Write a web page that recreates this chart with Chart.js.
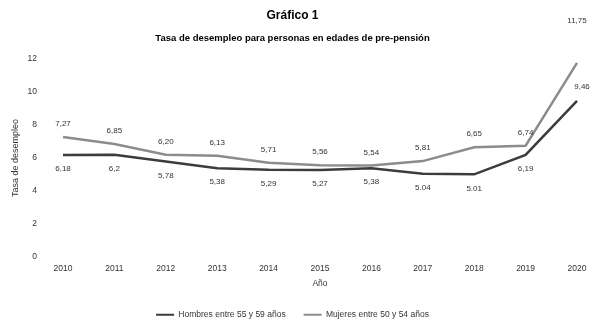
<!DOCTYPE html>
<html>
<head>
<meta charset="utf-8">
<script src="https://cdn.jsdelivr.net/npm/chart.js@4"></script>
<style>
  body { margin: 0; background: #fff; }
  #wrap { width: 597px; height: 320px; }
</style>
</head>
<body>
<div id="wrap"><canvas id="chart"></canvas></div>
<script>
// datos
const years = ["2010", "2011", "2012", "2013", "2014", "2015", "2016", "2017", "2018", "2019", "2020"];
const hombres = [6.18, 6.2, 5.78, 5.38, 5.29, 5.27, 5.38, 5.04, 5.01, 6.19, 9.46];
const mujeres = [7.27, 6.85, 6.20, 6.13, 5.71, 5.56, 5.54, 5.81, 6.65, 6.74, 11.75];
const hombresLabels = ["6,18", "6,2", "5,78", "5,38", "5,29", "5,27", "5,38", "5.04", "5.01", "6,19", "9,46"];
const mujeresLabels = ["7,27", "6,85", "6,20", "6,13", "5,71", "5,56", "5,54", "5,81", "6,65", "6,74", "11,75"];
const yTicks = [0, 2, 4, 6, 8, 10, 12];

const FONT = "'Liberation Sans Narrow', 'Liberation Sans', Arial, sans-serif";

// etiquetas de valores
const valueLabels = {
  id: "valueLabels",
  afterDatasetsDraw(chart) {
    const ctx = chart.ctx;
    ctx.save();
    ctx.font = "8px " + FONT;
    ctx.fillStyle = "#333";
    ctx.textAlign = "center";
    ctx.textBaseline = "middle";
    chart.data.datasets.forEach((ds, i) => {
      const meta = chart.getDatasetMeta(i);
      meta.data.forEach((pt, j) => {
        let dx = 0;
        let dy = i === 0 ? 14 : -13;
        const last = j === ds.data.length - 1;
        if (i === 0 && last) { dx = 5; dy = -14; }
        if (i === 1 && last) { dy = -42; }
        ctx.fillText(ds.labels[j], pt.x + dx, pt.y + dy);
      });
    });
    ctx.restore();
  },
};

new Chart(document.getElementById("chart"), {
  type: "line",
  data: {
    labels: years,
    datasets: [
      {
        label: "Hombres entre 55 y 59 años",
        data: hombres,
        labels: hombresLabels,
        borderColor: "#3c3c3c",
        backgroundColor: "#3c3c3c",
        borderWidth: 2.5,
        pointRadius: 0,
        tension: 0,
      },
      {
        label: "Mujeres entre 50 y 54 años",
        data: mujeres,
        labels: mujeresLabels,
        borderColor: "#8c8c8c",
        backgroundColor: "#8c8c8c",
        borderWidth: 2.5,
        pointRadius: 0,
        tension: 0,
      },
    ],
  },
  options: {
    responsive: true,
    maintainAspectRatio: false,
    animation: false,
    layout: { padding: { left: 8, right: 20, top: 4, bottom: -9 } },
    plugins: {
      title: {
        display: true,
        text: "Gráfico 1",
        color: "#000",
        font: { family: "'Liberation Sans', Arial, sans-serif", size: 12, weight: "bold" },
        padding: { top: 4, bottom: 10 },
      },
      subtitle: {
        display: true,
        text: "Tasa de desempleo para personas en edades de pre-pensión",
        color: "#000",
        font: { family: FONT, size: 9.5, weight: "bold" },
        padding: { bottom: 15 },
      },
      legend: {
        position: "bottom",
        labels: {
          boxWidth: 18,
          boxHeight: 2,
          color: "#333",
          padding: 18,
          font: { family: FONT, size: 8.5 },
          generateLabels: (chart) =>
            Chart.defaults.plugins.legend.labels.generateLabels(chart).map((l) => ({ ...l, lineWidth: 0 })),
        },
      },
      tooltip: { enabled: false },
    },
    scales: {
      x: {
        offset: false,
        grid: { display: false, drawTicks: false },
        border: { display: false },
        ticks: { color: "#333", font: { family: FONT, size: 8.5 }, padding: 6, maxRotation: 0 },
        title: { display: true, text: "Año", color: "#333", font: { family: FONT, size: 8.5 }, padding: { top: -1, bottom: 4 } },
      },
      y: {
        min: 0,
        max: 12,
        afterBuildTicks: (axis) => { axis.ticks = yTicks.map((v) => ({ value: v })); },
        afterFit: (axis) => { axis.width = 55; },
        grid: { display: false, drawTicks: false },
        border: { display: false },
        ticks: { color: "#333", font: { family: FONT, size: 8.5 }, padding: 26 },
        title: { display: true, text: "Tasa de desempleo", color: "#333", font: { family: FONT, size: 9 }, padding: { top: 2, bottom: 0 } },
      },
    },
  },
  plugins: [valueLabels],
});
</script>
</body>
</html>
